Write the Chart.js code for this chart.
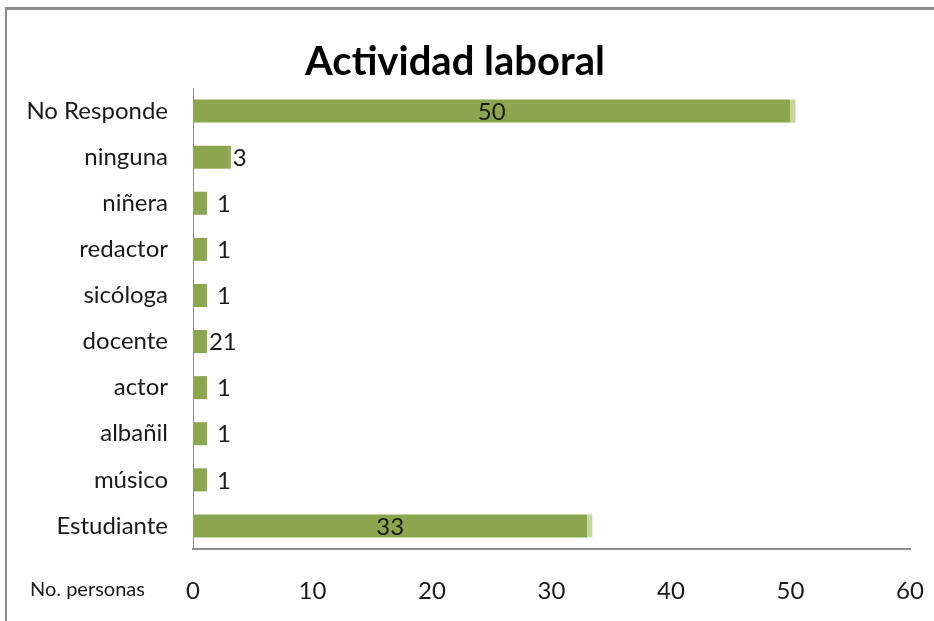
<!DOCTYPE html>
<html>
<head>
<meta charset="utf-8">
<script src="https://cdn.jsdelivr.net/npm/chart.js@4.4.0/dist/chart.umd.min.js"></script>
<style>
  html, body { margin: 0; padding: 0; background: #fff; }
  #wrap { position: relative; width: 934px; height: 621px; }
  #frame { position: absolute; left: 5px; top: 7px; right: 0; bottom: 0;
           border-top: 3px solid #8c8c8c; border-left: 2px solid #8c8c8c; pointer-events: none; }
  canvas { position: absolute; left: 0; top: 0; }
</style>
</head>
<body>
<div id="wrap">
  <canvas id="myChart" width="934" height="621"></canvas>
  <div id="frame"></div>
</div>
<script>
"use strict";

var categories = ['No Responde', 'ninguna', 'niñera', 'redactor', 'sicóloga', 'docente', 'actor', 'albañil', 'músico', 'Estudiante'];
var personas = [50, 3, 1, 1, 1, 1, 1, 1, 1, 33];
var valueLabels = ['50', '3', '1', '1', '1', '21', '1', '1', '1', '33'];
var xTicks = [0, 10, 20, 30, 40, 50, 60];

var fontFamily = 'Lato, "Open Sans", sans-serif';
var barColor = '#8ba64f';
var capColor = '#c3d69b';

// light cap at the end of each bar + value labels + axis caption
var barExtras = {
    id: 'barExtras',
    afterDatasetsDraw: function(chart) {
        var ctx = chart.ctx;
        var meta = chart.getDatasetMeta(0);
        ctx.save();
        for (var i = 0; i < meta.data.length; i++) {
            var bar = meta.data[i];
            var h = bar.height;
            ctx.fillStyle = personas[i] >= 10 ? capColor : barColor;
            ctx.fillRect(bar.x, bar.y - h / 2, personas[i] >= 10 ? 5 : 2, h);

            ctx.fillStyle = '#1a1a1a';
            ctx.font = '24px ' + fontFamily;
            ctx.textBaseline = 'middle';
            if (personas[i] >= 10) {
                ctx.textAlign = 'center';
                ctx.fillText(valueLabels[i], (bar.base + bar.x) / 2, bar.y + 1);
            } else {
                ctx.textAlign = 'left';
                var off = personas[i] > 1 ? 4 : 12;
                if (valueLabels[i].length > 1) off = 4;
                ctx.fillText(valueLabels[i], bar.x + off, bar.y + 1);
            }
        }
        ctx.fillStyle = '#1a1a1a';
        ctx.font = '20px ' + fontFamily;
        ctx.textAlign = 'left';
        ctx.textBaseline = 'middle';
        ctx.fillText('No. personas', 30, 590);
        ctx.restore();
    }
};

var myChart1 = document.getElementById('myChart').getContext('2d');

var actividadChart = new Chart(myChart1, {
    type: 'bar',
    data: {
        labels: categories,
        datasets: [{
            label: 'No. personas',
            data: personas,
            backgroundColor: barColor,
            barPercentage: 0.5,
            categoryPercentage: 1
        }]
    },
    options: {
        indexAxis: 'y',
        responsive: false,
        animation: false,
        layout: { padding: { left: 0, right: 24, top: 0, bottom: 0 } },
        plugins: {
            legend: { display: false },
            tooltip: { enabled: false },
            title: {
                display: true,
                text: 'Actividad laboral',
                color: '#000',
                font: { family: fontFamily, size: 40, weight: 'bold', lineHeight: 1.2 },
                padding: { top: 38, bottom: 2 }
            }
        },
        scales: {
            x: {
                min: 0,
                max: 60,
                afterBuildTicks: function(scale) {
                    scale.ticks = xTicks.map(function(v) { return { value: v }; });
                },
                afterFit: function(scale) {
                    scale.height = 72;
                    scale.paddingLeft = 0;
                    scale.paddingRight = 0;
                },
                grid: { display: false, drawTicks: false },
                border: { display: true, color: '#8c8c8c', width: 2 },
                ticks: { color: '#1a1a1a', padding: 28, font: { family: fontFamily, size: 24 } }
            },
            y: {
                afterFit: function(scale) { scale.width = 193; },
                grid: { display: false, drawTicks: false },
                border: { display: true, color: '#8c8c8c', width: 1 },
                ticks: { color: '#1a1a1a', padding: 25, font: { family: fontFamily, size: 24 } }
            }
        }
    },
    plugins: [barExtras]
});
</script>
</body>
</html>
